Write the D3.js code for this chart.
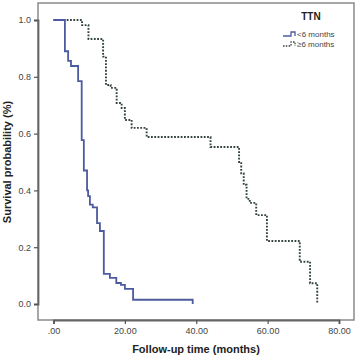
<!DOCTYPE html>
<html>
<head>
<meta charset="utf-8">
<script src="https://cdn.jsdelivr.net/npm/d3@7"></script>
<style>
  body { margin: 0; background: #fff; }
  svg { font-family: "Liberation Sans", Arial, sans-serif; }
</style>
</head>
<body>
<svg width="362" height="357"></svg>
<script>
// data: [time (months), survival after the step]
var groupNames = ["<6 months", "\u22656 months"];

var shortTtn = [
  [0, 1.0], [3.2, 0.89], [4.1, 0.856], [4.9, 0.838], [6.9, 0.785],
  [7.9, 0.577], [8.5, 0.47], [9.4, 0.40], [9.7, 0.38], [10.2, 0.35],
  [11.0, 0.34], [12.2, 0.285], [13.0, 0.257], [14.1, 0.106], [15.8, 0.092],
  [17.6, 0.074], [18.9, 0.067], [20.0, 0.053], [22.3, 0.015], [39.0, 0.0]
];

var longTtn = [
  [0, 1.0], [8.0, 0.982], [9.8, 0.933], [13.9, 0.871], [14.7, 0.771],
  [16.0, 0.761], [17.7, 0.708], [19.1, 0.690], [20.0, 0.648], [21.9, 0.620],
  [26.1, 0.588], [44.0, 0.553], [52.0, 0.50], [52.6, 0.46], [53.3, 0.42],
  [54.1, 0.37], [55.0, 0.356], [56.8, 0.313], [59.8, 0.222], [69.0, 0.149],
  [71.9, 0.073], [73.9, 0.0]
];

var xTicks = [0, 20, 40, 60, 80];
var yTicks = [0, 0.2, 0.4, 0.6, 0.8, 1.0];

var svg = d3.select("svg");

// frame of the plot area
var frame = {left: 38, top: 3, right: 354, bottom: 320};

var x = d3.scaleLinear().domain([0, 80]).range([53.5, 339]);
var y = d3.scaleLinear().domain([0, 1]).range([304, 20]);

svg.append("rect")
    .attr("x", frame.left)
    .attr("y", frame.top)
    .attr("width", frame.right - frame.left)
    .attr("height", frame.bottom - frame.top)
    .attr("fill", "none")
    .attr("stroke", "#8a8a8a")
    .attr("stroke-width", 1.5);

// y axis
var yAxis = svg.append("g")
    .attr("transform", "translate(" + frame.left + ",0)")
    .call(d3.axisLeft(y).tickValues(yTicks).tickSize(4).tickFormat(d3.format(".1f")));
// x axis
var xAxis = svg.append("g")
    .attr("transform", "translate(0," + frame.bottom + ")")
    .call(d3.axisBottom(x).tickValues(xTicks).tickSize(4)
      .tickFormat(function (d) { return d === 0 ? ".00" : d3.format(".2f")(d); }));

[yAxis, xAxis].forEach(function (ax) {
  ax.select(".domain").attr("stroke", "#666").attr("stroke-width", 1.8);
  ax.selectAll(".tick line").attr("stroke", "#555").attr("stroke-width", 1.2);
  ax.selectAll(".tick text").attr("fill", "#444").style("font-size", "9px");
});
yAxis.selectAll(".tick text").attr("x", -7);
xAxis.selectAll(".tick text").attr("y", 8);

// step curves
var line = d3.line()
    .x(function (d) { return x(d[0]); })
    .y(function (d) { return y(d[1]); })
    .curve(d3.curveStepAfter);

svg.append("path")
    .datum(longTtn)
    .attr("d", line)
    .attr("fill", "none")
    .attr("stroke", "#33443c")
    .attr("stroke-width", 1.9)
    .attr("stroke-dasharray", "1.8,1.5");

svg.append("path")
    .datum(shortTtn)
    .attr("d", line)
    .attr("fill", "none")
    .attr("stroke", "#4c5b9f")
    .attr("stroke-width", 1.8);

// legend
svg.append("text")
    .attr("x", 311).attr("y", 20)
    .attr("text-anchor", "middle")
    .style("font-size", "10px").style("font-weight", "bold")
    .attr("fill", "#222")
    .text("TTN");

var legend = svg.selectAll(".legend")
    .data(groupNames)
    .join("g")
      .attr("class", "legend")
      .attr("transform", function (d, i) { return "translate(283," + (34 + i * 10) + ")"; });

legend.append("path")
    .attr("d", "M0,2 H8 V-2 H12 V2")
    .attr("fill", "none")
    .attr("stroke", function (d, i) { return i == 0 ? "#4c5b9f" : "#33443c"; })
    .attr("stroke-width", 1.3)
    .attr("stroke-dasharray", function (d, i) { return i == 0 ? null : "1.5,1.3"; });

legend.append("text")
    .attr("x", 14).attr("y", 3)
    .style("font-size", "8px")
    .attr("fill", "#444")
    .text(function (d) { return d; });

// axis titles
svg.append("text")
    .attr("x", 196).attr("y", 353)
    .attr("text-anchor", "middle")
    .style("font-size", "11px").style("font-weight", "bold")
    .attr("fill", "#222")
    .text("Follow-up time (months)");

svg.append("text")
    .attr("transform", "translate(11,162) rotate(-90)")
    .attr("text-anchor", "middle")
    .style("font-size", "11px").style("font-weight", "bold")
    .attr("fill", "#222")
    .text("Survival probability (%)");
</script>
</body>
</html>
